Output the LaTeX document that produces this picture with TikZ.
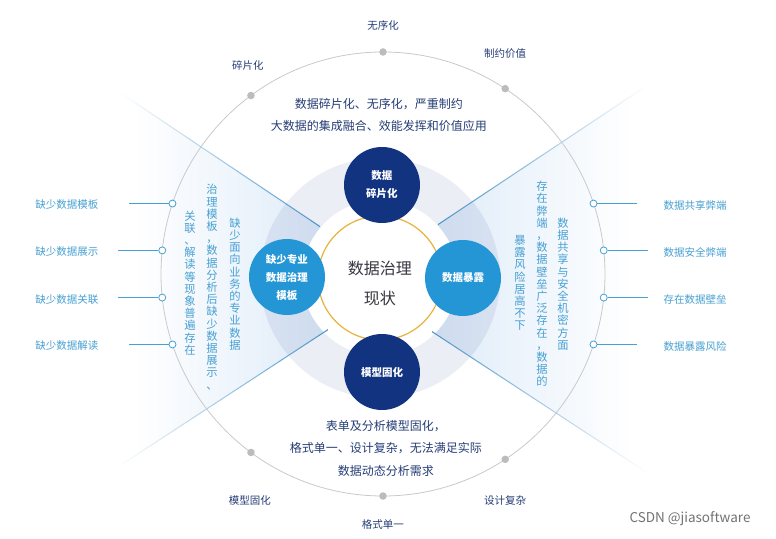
\documentclass[tikz,border=0pt]{standalone}
\usepackage{fontspec}
\setmainfont{Noto Sans CJK SC}
\usetikzlibrary{positioning}

\definecolor{satnavy}{RGB}{18,52,128}
\definecolor{satblue}{RGB}{36,150,214}
\definecolor{ringgold}{RGB}{232,178,58}
\definecolor{textnavy}{RGB}{38,62,118}
\definecolor{textblue}{RGB}{72,160,210}
\definecolor{wedgeblue}{RGB}{210,228,246}
\definecolor{lineblue}{RGB}{70,145,198}
\definecolor{discgray}{RGB}{236,238,245}
\definecolor{pointgray}{RGB}{188,188,190}
\definecolor{centergray}{RGB}{55,55,65}

% one character per line, for the upright columns
\newcommand\vcol[1]{\vcolfirst#1\relax}
\def\vcolfirst#1{#1\vcolnext}
\def\vcolnext#1{\ifx#1\relax\else\\#1\expandafter\vcolnext\fi}

\begin{document}
\begin{tikzpicture}[x=1pt, y=1pt,
  every node/.style={font=\fontsize{10.5}{12}\selectfont, inner sep=1pt},
  satdark/.style={circle, fill=satnavy, text=white, minimum size=76pt, inner sep=0pt, align=center, font=\fontsize{10.5}{18}\selectfont\bfseries},
  satlight/.style={satdark, fill=satblue},
  ringlabel/.style={text=textnavy},
  sidelabel/.style={text=textblue},
  sideline/.style={textblue, line width=0.8pt},
  vcoltext/.style={text=textblue, align=center, font=\fontsize{11.3}{12.2}\selectfont},
  paratext/.style={text=textnavy, align=center, font=\fontsize{12}{22.5}\selectfont},
  graydot/.style={circle, fill=pointgray, minimum size=7.5pt, inner sep=0pt},
  opendot/.style={circle, draw=textblue, fill=white, line width=0.8pt, minimum size=7pt, inner sep=0pt}]

  \useasboundingbox (-383,-264) rectangle (393,274);
  \fill[white] (-383,-264) rectangle (393,274);

  % side wedges
  \shade[left color=white, right color=wedgeblue] (19,-7) -- (-250,173) -- (-250,-183) -- cycle;
  \shade[left color=wedgeblue, right color=white] (-29,-6) -- (250,180) -- (250,-189) -- cycle;

  % soft disc and white core
  \fill[discgray, blend mode=multiply] (-3,-4) circle (120);
  \fill[white] (-3,-4) circle (78);

  % outer circle
  \draw[pointgray!80, line width=0.8pt] (0,0) circle (222);

  % wedge edges
  \shade[left color=white, middle color=lineblue, right color=lineblue] (-263,182) -- (-63,48) -- (-63,46.8) -- (-263,180.8) -- cycle;
  \shade[left color=white, middle color=lineblue, right color=lineblue] (-266,-193) -- (-55,-55) -- (-55,-56.2) -- (-266,-194.2) -- cycle;
  \shade[left color=lineblue, middle color=lineblue, right color=white] (55,50) -- (264,189) -- (264,187.8) -- (55,48.8) -- cycle;
  \shade[left color=lineblue, middle color=lineblue, right color=white] (49,-57) -- (264,-198) -- (264,-199.2) -- (49,-58.2) -- cycle;

  \draw[ringgold, line width=1.2pt] (-3,-4) circle (62);

  \node[text=centergray, align=center, font=\fontsize{16}{30}\selectfont] (core) at (-3,-9) {数据治理\\现状};

  \node[satdark] (fragment) at (-1,89) {数据\\碎片化};
  \node[satdark] (rigid) at (-1,-98) {模型固化};
  \node[satlight] (template) at (-96,-3) {缺少专业\\数据治理\\模板};
  \node[satlight] (exposure) at (80,-4) {数据暴露};

  \node[paratext] (topnote) at (-4,159) {数据碎片化、无序化，严重制约\\大数据的集成融合、效能发挥和价值应用};
  \node[paratext] (bottomnote) at (3,-174) {表单及分析模型固化，\\格式单一、设计复杂，无法满足实际\\数据动态分析需求};

  % dots on the outer circle, top and bottom
  \node[graydot] (dotfrag) at (126.5:222) {};
  \node[graydot] (dotdisorder) at (90:222) {};
  \node[graydot] (dotlimit) at (56.6:222) {};
  \node[graydot] (dotrigid) at (233.5:222) {};
  \node[graydot] (dotformat) at (270:222) {};
  \node[graydot] (dotdesign) at (303.4:222) {};

  \node[ringlabel] (labfrag) at (-135,208) {碎片化};
  \node[ringlabel] (labdisorder) at (0,248) {无序化};
  \node[ringlabel] (lablimit) at (122,220) {制约价值};
  \node[ringlabel] (labrigid) at (-133,-227) {模型固化};
  \node[ringlabel] (labformat) at (0,-251) {格式单一};
  \node[ringlabel] (labdesign) at (122,-227) {设计复杂};

  % upright columns
  \node[vcoltext] (colleftA) at (-148,-10) {\vcol{缺少面向业务的专业数据}};
  \node[vcoltext] (colleftB) at (-171,-13) {\vcol{治理模板，数据分析后缺少数据展示、}};
  \node[vcoltext] (colleftC) at (-193,-9) {\vcol{关联、解读等现象普遍存在}};
  \node[vcoltext] (colrightA) at (180,-10) {\vcol{数据共享与安全机密方面}};
  \node[vcoltext] (colrightB) at (159,-10) {\vcol{存在弊端，数据壁垒广泛存在，数据的}};
  \node[vcoltext] (colrightC) at (137,-9) {\vcol{暴露风险居高不下}};

  % left side points
  \node[opendot] (ldotA) at (161.5:222) {};
  \node[opendot] (ldotB) at (173.9:222) {};
  \node[opendot] (ldotC) at (186.1:222) {};
  \node[opendot] (ldotD) at (198.5:222) {};
  \coordinate[left=40pt of ldotA] (lendA);
  \coordinate[left=40pt of ldotB] (lendB);
  \coordinate[left=40pt of ldotC] (lendC);
  \coordinate[left=40pt of ldotD] (lendD);
  \draw[sideline] (ldotA) -- (lendA);
  \draw[sideline] (ldotB) -- (lendB);
  \draw[sideline] (ldotC) -- (lendC);
  \draw[sideline] (ldotD) -- (lendD);
  \node[sidelabel] (llabA) at (-316,69) {缺少数据模板};
  \node[sidelabel] (llabB) at (-316,22) {缺少数据展示};
  \node[sidelabel] (llabC) at (-316,-26) {缺少数据关联};
  \node[sidelabel] (llabD) at (-316,-72) {缺少数据解读};

  % right side points
  \node[opendot] (rdotA) at (18.5:222) {};
  \node[opendot] (rdotB) at (6.1:222) {};
  \node[opendot] (rdotC) at (-6.1:222) {};
  \node[opendot] (rdotD) at (-18.5:222) {};
  \coordinate[right=40pt of rdotA] (rendA);
  \coordinate[right=40pt of rdotB] (rendB);
  \coordinate[right=40pt of rdotC] (rendC);
  \coordinate[right=40pt of rdotD] (rendD);
  \draw[sideline] (rdotA) -- (rendA);
  \draw[sideline] (rdotB) -- (rendB);
  \draw[sideline] (rdotC) -- (rendC);
  \draw[sideline] (rdotD) -- (rendD);
  \node[sidelabel] (rlabA) at (312,69) {数据共享弊端};
  \node[sidelabel] (rlabB) at (312,22) {数据安全弊端};
  \node[sidelabel] (rlabC) at (312,-26) {存在数据壁垒};
  \node[sidelabel] (rlabD) at (312,-72) {数据暴露风险};

  \node[text=black!55, font=\fontsize{13.5}{15}\selectfont] (mark) at (307,-245) {CSDN @jiasoftware};
\end{tikzpicture}
\end{document}
